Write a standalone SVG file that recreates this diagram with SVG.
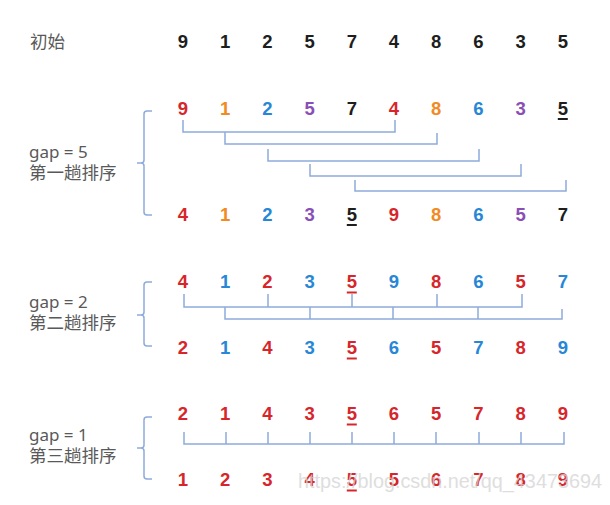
<svg xmlns="http://www.w3.org/2000/svg" width="610" height="505" viewBox="0 0 610 505">
<style>
.d{font-family:"Liberation Sans","DejaVu Sans",sans-serif;font-weight:bold;font-size:18.5px;text-anchor:middle}
.lbl{font-family:"Noto Sans","Noto Sans CJK SC",sans-serif;font-size:17px;fill:#595959}
.cjk{font-family:"Noto Sans CJK SC",sans-serif;font-size:17.5px;fill:#595959}
.r{fill:#d7262b}.o{fill:#f28a24}.b{fill:#2787d6}.p{fill:#8a4fb6}.k{fill:#1e1e1e}
.ul{stroke-width:2}
.ur{stroke:#d7262b}.uk{stroke:#1e1e1e}
.ln{fill:none;stroke:#8eaadb;stroke-width:1.5}
.wm{font-family:"Liberation Sans",sans-serif;font-size:20px;fill:#d4d4d4;opacity:0.75}
</style>

<g id="label-init"><text class="cjk" x="30" y="48">初始</text></g>
<g id="row-init">
<text class="d k" x="183" y="48">9</text><text class="d k" x="225.2" y="48">1</text><text class="d k" x="267.4" y="48">2</text><text class="d k" x="309.6" y="48">5</text><text class="d k" x="351.8" y="48">7</text><text class="d k" x="394" y="48">4</text><text class="d k" x="436.2" y="48">8</text><text class="d k" x="478.4" y="48">6</text><text class="d k" x="520.6" y="48">3</text><text class="d k" x="562.8" y="48">5</text>
</g>

<!-- Pass 1 -->
<g id="label-gap5"><text class="lbl" x="29" y="158">gap = 5</text><text class="cjk" x="29" y="179">第一趟排序</text></g>
<g id="row-gap5-before">
<text class="d r" x="183" y="115">9</text><text class="d o" x="225.2" y="115">1</text><text class="d b" x="267.4" y="115">2</text><text class="d p" x="309.6" y="115">5</text><text class="d k" x="351.8" y="115">7</text><text class="d r" x="394" y="115">4</text><text class="d o" x="436.2" y="115">8</text><text class="d b" x="478.4" y="115">6</text><text class="d p" x="520.6" y="115">3</text><text class="d k" x="562.8" y="115">5</text>
<line class="ul uk" x1="557.8" y1="119" x2="567.8" y2="119"/>
</g>
<g id="row-gap5-after">
<text class="d r" x="183" y="221">4</text><text class="d o" x="225.2" y="221">1</text><text class="d b" x="267.4" y="221">2</text><text class="d p" x="309.6" y="221">3</text><text class="d k" x="351.8" y="221">5</text><text class="d r" x="394" y="221">9</text><text class="d o" x="436.2" y="221">8</text><text class="d b" x="478.4" y="221">6</text><text class="d p" x="520.6" y="221">5</text><text class="d k" x="562.8" y="221">7</text>
<line class="ul uk" x1="346.8" y1="225" x2="356.8" y2="225"/>
</g>

<!-- Pass 2 -->
<g id="label-gap2"><text class="lbl" x="29" y="308">gap = 2</text><text class="cjk" x="29" y="329">第二趟排序</text></g>
<g id="row-gap2-before">
<text class="d r" x="183" y="288">4</text><text class="d b" x="225.2" y="288">1</text><text class="d r" x="267.4" y="288">2</text><text class="d b" x="309.6" y="288">3</text><text class="d r" x="351.8" y="288">5</text><text class="d b" x="394" y="288">9</text><text class="d r" x="436.2" y="288">8</text><text class="d b" x="478.4" y="288">6</text><text class="d r" x="520.6" y="288">5</text><text class="d b" x="562.8" y="288">7</text>
<line class="ul ur" x1="346.8" y1="292.5" x2="356.8" y2="292.5"/>
</g>
<g id="row-gap2-after">
<text class="d r" x="183" y="354">2</text><text class="d b" x="225.2" y="354">1</text><text class="d r" x="267.4" y="354">4</text><text class="d b" x="309.6" y="354">3</text><text class="d r" x="351.8" y="354">5</text><text class="d b" x="394" y="354">6</text><text class="d r" x="436.2" y="354">5</text><text class="d b" x="478.4" y="354">7</text><text class="d r" x="520.6" y="354">8</text><text class="d b" x="562.8" y="354">9</text>
<line class="ul ur" x1="346.8" y1="358.5" x2="356.8" y2="358.5"/>
</g>

<!-- Pass 3 -->
<g id="label-gap1"><text class="lbl" x="29" y="441">gap = 1</text><text class="cjk" x="29" y="462">第三趟排序</text></g>
<g id="row-gap1-before">
<text class="d r" x="183" y="420">2</text><text class="d r" x="225.2" y="420">1</text><text class="d r" x="267.4" y="420">4</text><text class="d r" x="309.6" y="420">3</text><text class="d r" x="351.8" y="420">5</text><text class="d r" x="394" y="420">6</text><text class="d r" x="436.2" y="420">5</text><text class="d r" x="478.4" y="420">7</text><text class="d r" x="520.6" y="420">8</text><text class="d r" x="562.8" y="420">9</text>
<line class="ul ur" x1="346.8" y1="424.5" x2="356.8" y2="424.5"/>
</g>
<g id="row-gap1-after">
<text class="d r" x="183" y="486">1</text><text class="d r" x="225.2" y="486">2</text><text class="d r" x="267.4" y="486">3</text><text class="d r" x="309.6" y="486">4</text><text class="d r" x="351.8" y="486">5</text><text class="d r" x="394" y="486">5</text><text class="d r" x="436.2" y="486">6</text><text class="d r" x="478.4" y="486">7</text><text class="d r" x="520.6" y="486">8</text><text class="d r" x="562.8" y="486">9</text>
<line class="ul ur" x1="346.8" y1="490.5" x2="356.8" y2="490.5"/>
</g>

<g id="connectors">
<!-- braces -->
<path class="ln" d="M152,111 H147 Q144,111 144,114 V160 Q144,163 141,163 H137 M141,163 Q144,163 144,166 V212 Q144,215 147,215 H152"/>
<path class="ln" d="M152,282 H147 Q144,282 144,285 V312 Q144,315 141,315 H137 M141,315 Q144,315 144,318 V343 Q144,346 147,346 H152"/>
<path class="ln" d="M152,417 H147 Q144,417 144,420 V445 Q144,448 141,448 H137 M141,448 Q144,448 144,451 V476 Q144,479 147,479 H152"/>
<!-- gap 5 pairs -->
<path class="ln" d="M183,120 V132 H395 V120"/>
<path class="ln" d="M225,132 V144 H437 V133"/>
<path class="ln" d="M268,149 V161 H479 V149"/>
<path class="ln" d="M310,164 V176 H521 V164"/>
<path class="ln" d="M355,180 V191 H566 V180"/>
<!-- gap 2 groups -->
<path class="ln" d="M184,294 V307 H522 V294 M268,294 V307 M352,294 V307 M437,294 V307"/>
<path class="ln" d="M225,307 V319 H562 V309 M310,307 V319 M393,307 V319 M478,307 V319"/>
<!-- gap 1 -->
<path class="ln" d="M184,432 V444 H564 V432 M226,432 V444 M268,432 V444 M310,432 V444 M352,432 V444 M394,432 V444 M436,432 V444 M479,432 V444 M521,432 V444"/>
</g>

<text class="wm" x="298" y="488" textLength="304" lengthAdjust="spacingAndGlyphs">https://blog.csdn.net/qq_43473694</text>
</svg>
